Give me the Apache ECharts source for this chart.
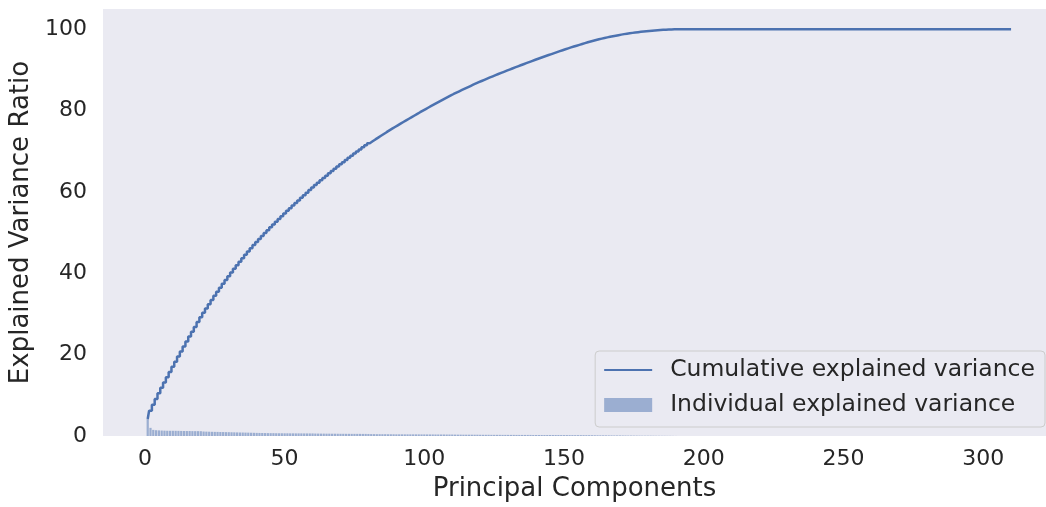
<!DOCTYPE html>
<html>
<head>
<meta charset="utf-8">
<script src="https://cdn.jsdelivr.net/npm/echarts@6/dist/echarts.min.js"></script>
<style>
html,body{margin:0;padding:0;background:#ffffff;}
#chart{width:1046px;height:507px;}
</style>
</head>
<body>
<div id="chart"></div>
<script>
// Individual explained variance (%) per principal component, components 1..310
const individualVariance = [
  4.20, 2.00, 1.50, 1.42, 1.38, 1.34, 1.31, 1.29, 1.28, 1.28,
  1.27, 1.26, 1.24, 1.23, 1.22, 1.22, 1.20, 1.19, 1.19, 1.18,
  1.10, 1.07, 1.05, 1.03, 1.01, 1.00, 0.98, 0.97, 0.95, 0.94,
  0.92, 0.90, 0.88, 0.86, 0.85, 0.83, 0.82, 0.80, 0.78, 0.76,
  0.75, 0.74, 0.72, 0.71, 0.70, 0.70, 0.68, 0.67, 0.67, 0.66,
  0.66, 0.65, 0.65, 0.64, 0.64, 0.64, 0.63, 0.63, 0.63, 0.63,
  0.60, 0.59, 0.58, 0.58, 0.57, 0.57, 0.56, 0.56, 0.55, 0.54,
  0.54, 0.53, 0.53, 0.52, 0.52, 0.52, 0.52, 0.51, 0.51, 0.50,
  0.47, 0.46, 0.45, 0.45, 0.44, 0.44, 0.43, 0.43, 0.42, 0.41,
  0.41, 0.41, 0.40, 0.40, 0.40, 0.40, 0.40, 0.40, 0.39, 0.39,
  0.38, 0.38, 0.38, 0.37, 0.37, 0.37, 0.37, 0.36, 0.36, 0.36,
  0.34, 0.33, 0.33, 0.32, 0.32, 0.32, 0.32, 0.31, 0.31, 0.30,
  0.29, 0.29, 0.29, 0.28, 0.28, 0.28, 0.28, 0.27, 0.27, 0.27,
  0.27, 0.27, 0.26, 0.26, 0.26, 0.26, 0.26, 0.26, 0.25, 0.25,
  0.25, 0.25, 0.24, 0.24, 0.24, 0.24, 0.24, 0.24, 0.23, 0.23,
  0.23, 0.22, 0.22, 0.21, 0.21, 0.21, 0.21, 0.20, 0.20, 0.19,
  0.18, 0.17, 0.16, 0.16, 0.15, 0.15, 0.14, 0.13, 0.13, 0.13,
  0.12, 0.11, 0.10, 0.10, 0.09, 0.09, 0.08, 0.07, 0.07, 0.07,
  0.07, 0.06, 0.05, 0.05, 0.04, 0.04, 0.03, 0.03, 0.02, 0.01,
  0, 0, 0, 0, 0, 0, 0, 0, 0, 0,
  0, 0, 0, 0, 0, 0, 0, 0, 0, 0,
  0, 0, 0, 0, 0, 0, 0, 0, 0, 0,
  0, 0, 0, 0, 0, 0, 0, 0, 0, 0,
  0, 0, 0, 0, 0, 0, 0, 0, 0, 0,
  0, 0, 0, 0, 0, 0, 0, 0, 0, 0,
  0, 0, 0, 0, 0, 0, 0, 0, 0, 0,
  0, 0, 0, 0, 0, 0, 0, 0, 0, 0,
  0, 0, 0, 0, 0, 0, 0, 0, 0, 0,
  0, 0, 0, 0, 0, 0, 0, 0, 0, 0,
  0, 0, 0, 0, 0, 0, 0, 0, 0, 0,
  0, 0, 0, 0, 0, 0, 0, 0, 0, 0
];
const xTickValues = [0, 50, 100, 150, 200, 250, 300];
const yTickValues = [0, 20, 40, 60, 80, 100];
const seriesNames = ['Cumulative explained variance', 'Individual explained variance'];
const xAxisTitle = 'Principal Components';
const yAxisTitle = 'Explained Variance Ratio';

// component numbers 1..N and cumulative sums
const components = individualVariance.map((v, i) => i + 1);
let running = 0;
const cumulativeVariance = individualVariance.map(v => { running += v; return Math.min(100, +running.toFixed(4)); });

const barData = components.map((c, i) => [c, individualVariance[i]]);
const lineData = components.map((c, i) => [c, cumulativeVariance[i]]);

const FONT = 'DejaVu Sans';
const TXT = '#262626';
const BLUE = '#4C72B0';

const chart = echarts.init(document.getElementById('chart'), null, {renderer: 'canvas'});
chart.setOption({
  backgroundColor: '#ffffff',
  animation: false,
  textStyle: {fontFamily: FONT, color: TXT},
  grid: {left: 102, right: 0, top: 9, bottom: 70, show: true, backgroundColor: '#EAEAF2', borderWidth: 0, containLabel: false},
  legend: {
    orient: 'vertical',
    right: 1,
    bottom: 80,
    padding: [6, 10, 9, 9],
    itemWidth: 48,
    itemHeight: 14,
    itemGap: 9,
    symbolKeepAspect: true,
    backgroundColor: '#EAEAF2',
    borderColor: '#CCCCCC',
    borderWidth: 1,
    borderRadius: 4,
    textStyle: {fontFamily: FONT, fontSize: 23.5, lineHeight: 26, color: TXT, padding: [0, 0, 0, 13]},
    data: [
      {name: seriesNames[0], icon: 'path://M0,0L48,0L48,2L0,2Z', itemStyle: {color: BLUE}},
      {name: seriesNames[1], icon: 'rect'}
    ]
  },
  xAxis: {
    type: 'value',
    min: -15,
    max: 322.5,
    name: xAxisTitle,
    nameLocation: 'middle',
    nameGap: 40,
    nameTextStyle: {fontFamily: FONT, fontSize: 26, color: TXT},
    axisLine: {show: false},
    axisTick: {show: false, customValues: xTickValues},
    splitLine: {show: false},
    axisLabel: {customValues: xTickValues, fontFamily: FONT, fontSize: 22, color: TXT, margin: 12}
  },
  yAxis: {
    type: 'value',
    min: 0,
    max: 105,
    interval: 20,
    name: yAxisTitle,
    nameLocation: 'middle',
    nameGap: 69,
    nameTextStyle: {fontFamily: FONT, fontSize: 26, color: TXT},
    axisLine: {show: false},
    axisTick: {show: false},
    splitLine: {show: false},
    axisLabel: {customValues: yTickValues, fontFamily: FONT, fontSize: 22, color: TXT, margin: 16,
      formatter: v => (yTickValues.indexOf(v) >= 0 ? String(v) : '')}
  },
  series: [
    {
      name: seriesNames[0],
      type: 'line',
      step: 'middle',
      data: lineData,
      symbol: 'none',
      lineStyle: {color: BLUE, width: 2.5},
      itemStyle: {color: BLUE},
      z: 3
    },
    {
      name: seriesNames[1],
      type: 'bar',
      data: barData,
      barWidth: 2.2,
      itemStyle: {color: 'rgba(76,114,176,0.5)'},
      z: 2
    }
  ]
});
</script>
</body>
</html>
